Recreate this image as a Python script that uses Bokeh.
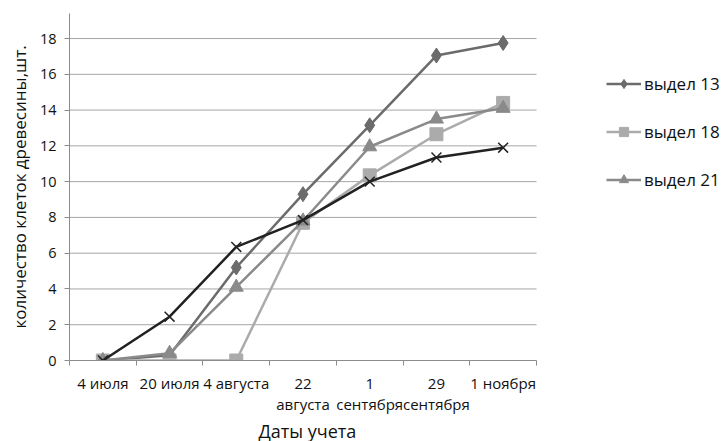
from bokeh.plotting import figure
from bokeh.models import Range1d, FixedTicker, Legend, LegendItem, Title
from bokeh.embed import file_html
from bokeh.resources import INLINE

dates = ["4 июля", "20 июля", "4 августа", "22\nавгуста", "1\nсентября", "29\nсентября", "1 ноября"]
v13 = [0, 0.3, 5.2, 9.3, 13.15, 17.05, 17.75]
v18 = [0, 0, 0, 7.7, 10.35, 12.65, 14.4]
v21 = [0, 0.4, 4.1, 7.8, 11.95, 13.5, 14.1]
vx = [0, 2.45, 6.35, 7.85, 10.0, 11.35, 11.9]
series_names = ["выдел 13", "выдел 18", "выдел 21"]
y_ticks = [0, 2, 4, 6, 8, 10, 12, 14, 16, 18]
x_title = "Даты учета"
y_title = "количество клеток древесины,шт."

FONT = "Open Sans"
n = len(dates)
xs = [i + 0.5 for i in range(n)]

# frame spans 69..728 px; categories occupy 69..536 px
x_end = n * (728 - 69) / (536 - 69)

p = figure(width=728, height=441, output_backend="svg", toolbar_location=None,
           x_range=Range1d(0, x_end), y_range=Range1d(0, 19.4),
           min_border_left=69, min_border_right=0, min_border_top=13, min_border_bottom=80)
p.outline_line_color = None
p.background_fill_color = "white"
p.border_fill_color = "white"

# axes
p.xaxis.bounds = (0, n)
p.xaxis.ticker = FixedTicker(ticks=xs, minor_ticks=list(range(n + 1)))
p.xaxis.major_label_overrides = {x: d for x, d in zip(xs, dates)}
p.xaxis.major_tick_line_color = None
p.xaxis.major_tick_out = 0
p.xaxis.major_tick_in = 0
p.xaxis.minor_tick_out = 5
p.xaxis.minor_tick_in = 0
p.xaxis.minor_tick_line_color = "#8c8c8c"
p.xaxis.axis_line_color = "#8c8c8c"
p.xaxis.major_label_text_font = FONT
p.xaxis.major_label_text_font_size = "15px"
p.xaxis.major_label_text_color = "#111111"
p.xaxis.major_label_text_line_height = 1.08
p.xaxis.major_label_standoff = 7

p.yaxis.ticker = FixedTicker(ticks=y_ticks)
p.yaxis.minor_tick_line_color = None
p.yaxis.major_tick_out = 5
p.yaxis.major_tick_in = 0
p.yaxis.major_tick_line_color = "#8c8c8c"
p.yaxis.axis_line_color = "#8c8c8c"
p.yaxis.major_label_text_font = FONT
p.yaxis.major_label_text_font_size = "14.5px"
p.yaxis.major_label_text_color = "#111111"
p.yaxis.major_label_standoff = 8
p.yaxis.axis_label = y_title
p.yaxis.axis_label_text_font = FONT
p.yaxis.axis_label_text_font_size = "17px"
p.yaxis.axis_label_text_font_style = "normal"
p.yaxis.axis_label_text_color = "#111111"
p.yaxis.axis_label_standoff = 6

p.xgrid.grid_line_color = None
p.ygrid.grid_line_color = None

# x-axis title centred under the category area
p.add_layout(Title(text=x_title, align="left", offset=189, standoff=-2,
                   text_font=FONT, text_font_size="18px", text_font_style="normal",
                   text_color="#111111"), "below")

# horizontal gridlines limited to the category area
grid_y = [t for t in y_ticks if t > 0]
p.segment(x0=[0] * len(grid_y), x1=[n] * len(grid_y), y0=grid_y, y1=grid_y,
          line_color="#a6a6a6", line_width=1, level="underlay")

# series
l13 = p.line(xs, v13, line_color="#6b6b6b", line_width=2.5)
m13 = p.scatter(xs, v13, marker="diamond", size=15, fill_color="#6b6b6b", line_color="#6b6b6b")
l18 = p.line(xs, v18, line_color="#ababab", line_width=2.5)
m18 = p.scatter(xs, v18, marker="square", size=13, fill_color="#ababab", line_color="#ababab")
l21 = p.line(xs, v21, line_color="#8a8a8a", line_width=2.5)
m21 = p.scatter(xs, v21, marker="triangle", size=14, fill_color="#8a8a8a", line_color="#8a8a8a")
lx = p.line(xs, vx, line_color="#222222", line_width=2.5)
mx = p.scatter(xs, vx, marker="x", size=14, line_color="#222222", line_width=1.5)

legend = Legend(items=[
    LegendItem(label=series_names[0], renderers=[l13, m13]),
    LegendItem(label=series_names[1], renderers=[l18, m18]),
    LegendItem(label=series_names[2], renderers=[l21, m21]),
], location=(537, 169))
legend.border_line_color = None
legend.background_fill_alpha = 0
legend.padding = 0
legend.margin = 0
legend.spacing = 25
legend.glyph_width = 35
legend.glyph_height = 23
legend.label_standoff = 3
legend.label_text_font = FONT
legend.label_text_font_size = "17px"
legend.label_text_color = "#111111"
p.add_layout(legend, "center")

open("out.html", "w").write(file_html(p, INLINE))
